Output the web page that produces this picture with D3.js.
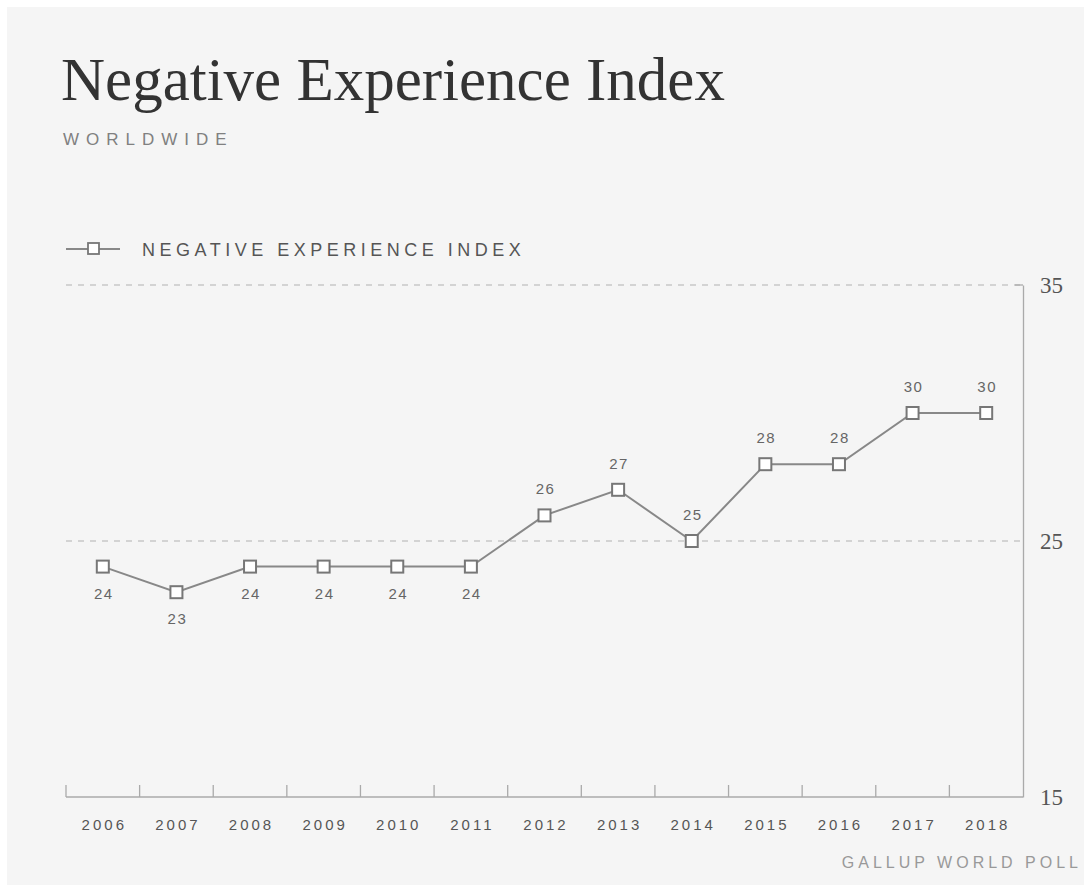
<!DOCTYPE html>
<html>
<head>
<meta charset="utf-8">
<script src="https://cdn.jsdelivr.net/npm/d3@7"></script>
<style>
  html, body { margin: 0; padding: 0; background: #fff; overflow: hidden; }
  svg { display: block; }
</style>
</head>
<body>
<div id="chart"></div>
<script>
(function(){
	var W = 1084, H = 885;
	// data
	var years = ["2006","2007","2008","2009","2010","2011","2012","2013","2014","2015","2016","2017","2018"];
	var values = [24,23,24,24,24,24,26,27,25,28,28,30,30];
	var labelSide = ["below","below","below","below","below","below","above","above","above","above","above","above","above"];
	var yTicks = [15,25,35];
	var gridValues = [25,35];

	var left = 66, right = 1023, top = 285, bottom = 797;
	var sans = "'Liberation Sans', Arial, sans-serif";
	var serif = "'Liberation Serif', 'DejaVu Serif', serif";

	var svg = d3.select("#chart")
						.append("svg")
						.attr("width", W)
						.attr("height", H);

	// 背景
	svg.append("rect")
		.attr("x", 7).attr("y", 7)
		.attr("width", W - 7).attr("height", H - 7)
		.attr("fill", "#f5f5f5");

	var x = d3.scaleBand().domain(years).range([left, right]);
	var y = d3.scaleLinear().domain([15, 35]).range([bottom, top]);

	// title
	svg.append("text")
		.attr("x", 61).attr("y", 100)
		.attr("font-family", serif)
		.attr("font-size", 61)
		.attr("fill", "#333")
		.text("Negative Experience Index");

	svg.append("text")
		.attr("x", 63).attr("y", 145)
		.attr("font-family", sans)
		.attr("font-size", 17)
		.attr("letter-spacing", "7px")
		.attr("fill", "#808080")
		.text("WORLDWIDE");

	// legend
	svg.append("line")
		.attr("x1", 66).attr("x2", 120)
		.attr("y1", 249).attr("y2", 249)
		.attr("stroke", "#888").attr("stroke-width", 2);
	svg.append("rect")
		.attr("x", 88).attr("y", 243)
		.attr("width", 11).attr("height", 11)
		.attr("fill", "#fff").attr("stroke", "#777").attr("stroke-width", 1.8);
	svg.append("text")
		.attr("x", 142).attr("y", 256)
		.attr("font-family", sans)
		.attr("font-size", 18)
		.attr("letter-spacing", "4.5px")
		.attr("fill", "#555")
		.text("NEGATIVE EXPERIENCE INDEX");

	// grid
	svg.selectAll("line.grid")
		.data(gridValues)
		.enter()
		.append("line")
		.attr("class", "grid")
		.attr("x1", left).attr("x2", right)
		.attr("y1", function(d){ return y(d); })
		.attr("y2", function(d){ return y(d); })
		.attr("stroke", "#c8c8c8")
		.attr("stroke-width", 1.3)
		.attr("stroke-dasharray", "6,6");

	// y axis (right)
	var yAxis = svg.append("g")
		.attr("transform", "translate(" + right + ",0)")
		.call(d3.axisRight(y).tickValues(yTicks).tickSize(0).tickPadding(17));
	yAxis.select(".domain").attr("stroke", "#aaa").attr("stroke-width", 1.3);
	yAxis.selectAll("text")
		.attr("font-family", serif)
		.attr("font-size", 23)
		.attr("fill", "#555");
	svg.append("line")
		.attr("x1", right - 8).attr("x2", right)
		.attr("y1", y(35)).attr("y2", y(35))
		.attr("stroke", "#aaa").attr("stroke-width", 1.3);

	// x axis
	svg.append("line")
		.attr("x1", left).attr("x2", right)
		.attr("y1", bottom).attr("y2", bottom)
		.attr("stroke", "#aaa").attr("stroke-width", 1.3);
	svg.selectAll("line.xtick")
		.data(years)
		.enter()
		.append("line")
		.attr("class", "xtick")
		.attr("x1", function(d){ return x(d); })
		.attr("x2", function(d){ return x(d); })
		.attr("y1", bottom).attr("y2", bottom - 12)
		.attr("stroke", "#aaa").attr("stroke-width", 1.3);
	svg.selectAll("text.xlab")
		.data(years)
		.enter()
		.append("text")
		.attr("class", "xlab")
		.attr("x", function(d){ return x(d) + x.bandwidth() / 2 + 1.5; })
		.attr("y", 830)
		.attr("text-anchor", "middle")
		.attr("font-family", sans)
		.attr("font-size", 15)
		.attr("letter-spacing", "3px")
		.attr("fill", "#555")
		.text(function(d){ return d; });

	// 折れ線
	var line = d3.line()
		.x(function(d, i){ return x(years[i]) + x.bandwidth() / 2; })
		.y(function(d){ return y(d); });
	svg.append("path")
		.datum(values)
		.attr("d", line)
		.attr("fill", "none")
		.attr("stroke", "#888")
		.attr("stroke-width", 2);

	svg.selectAll("rect.pt")
		.data(values)
		.enter()
		.append("rect")
		.attr("class", "pt")
		.attr("x", function(d, i){ return x(years[i]) + x.bandwidth() / 2 - 6; })
		.attr("y", function(d){ return y(d) - 6; })
		.attr("width", 12).attr("height", 12)
		.attr("fill", "#fff")
		.attr("stroke", "#777")
		.attr("stroke-width", 2);

	svg.selectAll("text.val")
		.data(values)
		.enter()
		.append("text")
		.attr("class", "val")
		.attr("x", function(d, i){ return x(years[i]) + x.bandwidth() / 2 + 1; })
		.attr("y", function(d, i){ return labelSide[i] == "below" ? y(d) + 32 : y(d) - 21; })
		.attr("text-anchor", "middle")
		.attr("font-family", sans)
		.attr("font-size", 15)
		.attr("letter-spacing", "1.5px")
		.attr("fill", "#666")
		.text(function(d){ return d; });

	// source
	svg.append("text")
		.attr("x", 1082).attr("y", 868)
		.attr("text-anchor", "end")
		.attr("font-family", sans)
		.attr("font-size", 16)
		.attr("letter-spacing", "4px")
		.attr("fill", "#999")
		.text("GALLUP WORLD POLL");
})();
</script>
</body>
</html>
